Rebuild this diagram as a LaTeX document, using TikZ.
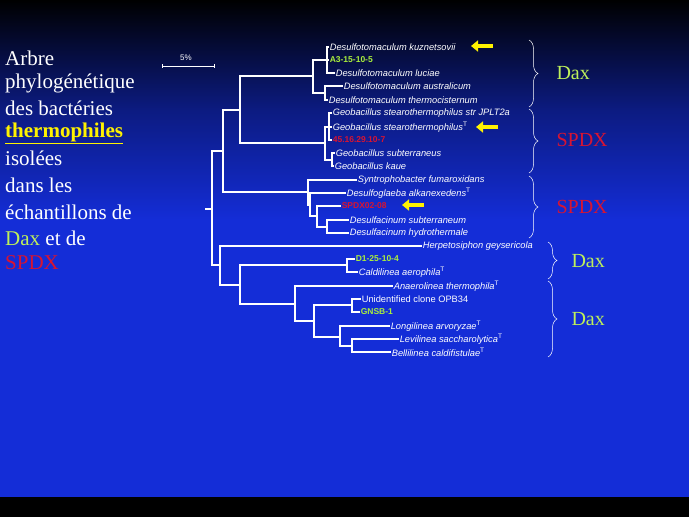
\documentclass[tikz,border=0pt]{standalone}
\usepackage{fontspec}
\setmainfont{Liberation Serif}
\setsansfont{Liberation Sans}
\usetikzlibrary{positioning,arrows.meta,calc,decorations.pathreplacing}
\definecolor{daxgreen}{RGB}{190,240,90}
\definecolor{isogreen}{RGB}{170,240,60}
\definecolor{spdxred}{RGB}{215,20,50}
\definecolor{slideblue}{RGB}{20,45,215}
\tikzset{
    x=1pt,
    y=-1pt,
    leaf/.style = {
        anchor=west,
        inner sep=0.6pt,
        text=white,
        font=\sffamily\itshape\fontsize{9.3}{10}\selectfont
    },
    isolate/.style = {
        anchor=west,
        inner sep=0.6pt,
        font=\sffamily\bfseries\fontsize{8.5}{10}\selectfont
    },
    branch/.style = {
        draw=white,
        line width=1.2pt
    },
    clade/.style = {
        draw=white,
        line width=0.5pt,
        decorate,
        decoration={brace,amplitude=9pt}
    },
    site/.style = {
        anchor=west,
        font=\fontsize{20}{22}\selectfont
    },
    pointer/.style = {
        draw=yellow,
        line width=3.5pt,
        -{Triangle[length=7pt,width=11pt]}
    },
    title/.style = {
        anchor=west,
        text=white,
        inner sep=0pt,
        font=\fontsize{21}{23}\selectfont
    }
}
\begin{document}
\begin{tikzpicture}
            % background of the slide
            \shade[top color=black, bottom color=slideblue, middle color=slideblue!60!black] (0,0) rectangle (689,220);
            \fill[slideblue] (0,219) rectangle (689,497);
            \fill[black] (0,497) rectangle (689,517);
            \useasboundingbox (0,0) rectangle (689,517);

            % left title
            \node[title] (t1) at (5,58) {Arbre};
            \node[title] (t2) at (5,83) {phylogénétique};
            \node[title] (t3) at (5,108) {des bactéries};
            \node[title, text=yellow] (t4) at (5,133) {\textbf{\underline{thermophiles}}};
            \node[title] (t5) at (5,158) {isolées};
            \node[title] (t6) at (5,185) {dans les};
            \node[title] (t7) at (5,212) {échantillons de};
            \node[title] (t8) at (5,238) {\textcolor{daxgreen}{Dax} et de};
            \node[title, text=spdxred] (t9) at (5,263) {SPDX};

            % scale bar
            \node[text=white, font=\sffamily\fontsize{8}{9}\selectfont] (scale) at (186,58) {5\%};
            \coordinate (sbl) at (162,66);
            \coordinate (sbr) at (214,66);
            \draw[white, line width=0.8pt] (sbl) -- (sbr);
            \draw[white, line width=0.8pt] ($(sbl)+(0,-2)$) -- ($(sbl)+(0,2)$);
            \draw[white, line width=0.8pt] ($(sbr)+(0,-2)$) -- ($(sbr)+(0,2)$);

            % leaves
            \node[leaf] (kuz) at (329,47) {Desulfotomaculum kuznetsovii};
            \node[isolate, text=isogreen] (a3) at (329,60) {A3-15-10-5};
            \node[leaf] (luc) at (335,73) {Desulfotomaculum luciae};
            \node[leaf] (aus) at (343,86) {Desulfotomaculum australicum};
            \node[leaf] (the) at (328,100) {Desulfotomaculum thermocisternum};
            \node[leaf] (jpl) at (332,113) {Geobacillus stearothermophilus str JPLT2a};
            \node[leaf] (ste) at (332,127) {Geobacillus stearothermophilus\textsuperscript{\upshape T}};
            \node[isolate, text=spdxred] (s45) at (332,140) {45.16.29.10-7};
            \node[leaf] (sub) at (335,153) {Geobacillus subterraneus};
            \node[leaf] (kau) at (334,166) {Geobacillus kaue};
            \node[leaf] (syn) at (357,180) {Syntrophobacter fumaroxidans};
            \node[leaf] (alk) at (346,193) {Desulfoglaeba alkanexedens\textsuperscript{\upshape T}};
            \node[isolate, text=spdxred] (s02) at (341,206) {SPDX02-08};
            \node[leaf] (dsu) at (349,220) {Desulfacinum subterraneum};
            \node[leaf] (dhy) at (349,233) {Desulfacinum hydrothermale};
            \node[leaf] (her) at (422,246) {Herpetosiphon geysericola};
            \node[isolate, text=isogreen] (d1) at (355,259) {D1-25-10-4};
            \node[leaf] (cal) at (358,272) {Caldilinea aerophila\textsuperscript{\upshape T}};
            \node[leaf] (ana) at (393,286) {Anaerolinea thermophila\textsuperscript{\upshape T}};
            \node[leaf, font=\sffamily\fontsize{9.3}{10}\selectfont] (opb) at (361,299) {Unidentified clone OPB34};
            \node[isolate, text=isogreen] (gns) at (360,312) {GNSB-1};
            \node[leaf] (lon) at (390,326) {Longilinea arvoryzae\textsuperscript{\upshape T}};
            \node[leaf] (lev) at (399,339) {Levilinea saccharolytica\textsuperscript{\upshape T}};
            \node[leaf] (bel) at (391,352) {Bellilinea caldifistulae\textsuperscript{\upshape T}};

            % internal nodes
            \coordinate (root) at (212,209);
            \coordinate (upper) at (223,151);
            \coordinate (firm) at (240,110);
            \coordinate (dtm) at (313,76);
            \coordinate (dtm1) at (327,60);
            \coordinate (dtm2) at (325,93);
            \coordinate (geo) at (325,143);
            \coordinate (geo1) at (329,127);
            \coordinate (geo2) at (332,160);
            \coordinate (del) at (308,192);
            \coordinate (del1) at (310,205);
            \coordinate (del2) at (317,216);
            \coordinate (del3) at (327,227);
            \coordinate (chl) at (220,265);
            \coordinate (chl1) at (240,285);
            \coordinate (cald) at (347,265);
            \coordinate (ana1) at (295,304);
            \coordinate (ana2) at (314,321);
            \coordinate (opbn) at (352,305);
            \coordinate (lon1) at (340,337);
            \coordinate (lev1) at (352,346);

            % branches
            \draw[branch] ($(root)+(-7,0)$) -- (root);
            \draw[branch] (root) |- (upper) (root) |- (chl);
            \draw[branch] (upper) |- (firm) (upper) |- (del);
            \draw[branch] (firm) |- (dtm) (firm) |- (geo);
            \draw[branch] (dtm) |- (dtm1) (dtm) |- (dtm2);
            \draw[branch] (dtm1) |- (kuz.west) (dtm1) |- (a3.west) (dtm1) |- (luc.west);
            \draw[branch] (dtm2) |- (aus.west) (dtm2) |- (the.west);
            \draw[branch] (geo) |- (geo1) (geo) |- (geo2);
            \draw[branch] (geo1) |- (jpl.west) (geo1) |- (ste.west) (geo1) |- (s45.west);
            \draw[branch] (geo2) |- (sub.west) (geo2) |- (kau.west);
            \draw[branch] (del) |- (syn.west) (del) |- (del1);
            \draw[branch] (del1) |- (alk.west) (del1) |- (del2);
            \draw[branch] (del2) |- (s02.west) (del2) |- (del3);
            \draw[branch] (del3) |- (dsu.west) (del3) |- (dhy.west);
            \draw[branch] (chl) |- (her.west) (chl) |- (chl1);
            \draw[branch] (chl1) |- (cald) (chl1) |- (ana1);
            \draw[branch] (cald) |- (d1.west) (cald) |- (cal.west);
            \draw[branch] (ana1) |- (ana.west) (ana1) |- (ana2);
            \draw[branch] (ana2) |- (opbn) (ana2) |- (lon1);
            \draw[branch] (opbn) |- (opb.west) (opbn) |- (gns.west);
            \draw[branch] (lon1) |- (lon.west) (lon1) |- (lev1);
            \draw[branch] (lev1) |- (lev.west) (lev1) |- (bel.west);

            % arrows to the isolates
            \coordinate (p1) at (493,46);
            \coordinate (p2) at (498,127);
            \coordinate (p3) at (424,205);
            \draw[pointer] (p1) -- ++(-22,0);
            \draw[pointer] (p2) -- ++(-22,0);
            \draw[pointer] (p3) -- ++(-22,0);

            % sites
            \draw[clade] (529,40) -- (529,107);
            \node[site, text=daxgreen] (dax1) at (553,73) {Dax};
            \draw[clade] (529,109) -- (529,173);
            \node[site, text=spdxred] (spdx1) at (553,140) {SPDX};
            \draw[clade] (529,176) -- (529,238);
            \node[site, text=spdxred] (spdx2) at (553,207) {SPDX};
            \draw[clade] (548,242) -- (548,279);
            \node[site, text=daxgreen] (dax2) at (568,261) {Dax};
            \draw[clade] (548,281) -- (548,357);
            \node[site, text=daxgreen] (dax3) at (568,319) {Dax};
\end{tikzpicture}
\end{document}
